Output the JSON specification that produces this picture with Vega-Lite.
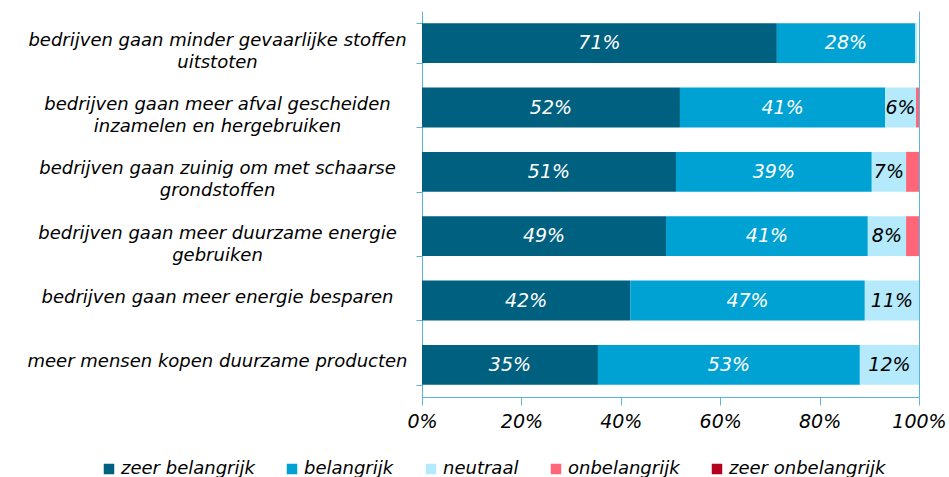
{
  "$schema": "https://vega.github.io/schema/vega-lite/v6.json",
  "width": 497,
  "height": 386,
  "autosize": {"type": "none"},
  "padding": {"left": 422, "top": 11, "right": 30, "bottom": 80},
  "background": "white",
  "config": {"font": "DejaVu Sans", "view": {"stroke": null}},
  "data": {
    "values": [
      {"item": "bedrijven gaan minder gevaarlijke stoffen|uitstoten", "cat": "zeer belangrijk", "ord": 1, "value": 71.4},
      {"item": "bedrijven gaan minder gevaarlijke stoffen|uitstoten", "cat": "belangrijk", "ord": 2, "value": 27.8},
      {"item": "bedrijven gaan minder gevaarlijke stoffen|uitstoten", "cat": "neutraal", "ord": 3, "value": 0.4},
      {"item": "bedrijven gaan minder gevaarlijke stoffen|uitstoten", "cat": "onbelangrijk", "ord": 4, "value": 0},
      {"item": "bedrijven gaan minder gevaarlijke stoffen|uitstoten", "cat": "zeer onbelangrijk", "ord": 5, "value": 0},
      {"item": "bedrijven gaan meer afval gescheiden|inzamelen en hergebruiken", "cat": "zeer belangrijk", "ord": 1, "value": 51.9},
      {"item": "bedrijven gaan meer afval gescheiden|inzamelen en hergebruiken", "cat": "belangrijk", "ord": 2, "value": 41.3},
      {"item": "bedrijven gaan meer afval gescheiden|inzamelen en hergebruiken", "cat": "neutraal", "ord": 3, "value": 6.2},
      {"item": "bedrijven gaan meer afval gescheiden|inzamelen en hergebruiken", "cat": "onbelangrijk", "ord": 4, "value": 0.6},
      {"item": "bedrijven gaan meer afval gescheiden|inzamelen en hergebruiken", "cat": "zeer onbelangrijk", "ord": 5, "value": 0},
      {"item": "bedrijven gaan zuinig om met schaarse|grondstoffen", "cat": "zeer belangrijk", "ord": 1, "value": 51.1},
      {"item": "bedrijven gaan zuinig om met schaarse|grondstoffen", "cat": "belangrijk", "ord": 2, "value": 39.4},
      {"item": "bedrijven gaan zuinig om met schaarse|grondstoffen", "cat": "neutraal", "ord": 3, "value": 6.9},
      {"item": "bedrijven gaan zuinig om met schaarse|grondstoffen", "cat": "onbelangrijk", "ord": 4, "value": 2.6},
      {"item": "bedrijven gaan zuinig om met schaarse|grondstoffen", "cat": "zeer onbelangrijk", "ord": 5, "value": 0},
      {"item": "bedrijven gaan meer duurzame energie|gebruiken", "cat": "zeer belangrijk", "ord": 1, "value": 49.1},
      {"item": "bedrijven gaan meer duurzame energie|gebruiken", "cat": "belangrijk", "ord": 2, "value": 40.6},
      {"item": "bedrijven gaan meer duurzame energie|gebruiken", "cat": "neutraal", "ord": 3, "value": 7.7},
      {"item": "bedrijven gaan meer duurzame energie|gebruiken", "cat": "onbelangrijk", "ord": 4, "value": 2.6},
      {"item": "bedrijven gaan meer duurzame energie|gebruiken", "cat": "zeer onbelangrijk", "ord": 5, "value": 0},
      {"item": "bedrijven gaan meer energie besparen", "cat": "zeer belangrijk", "ord": 1, "value": 41.9},
      {"item": "bedrijven gaan meer energie besparen", "cat": "belangrijk", "ord": 2, "value": 47.2},
      {"item": "bedrijven gaan meer energie besparen", "cat": "neutraal", "ord": 3, "value": 10.9},
      {"item": "bedrijven gaan meer energie besparen", "cat": "onbelangrijk", "ord": 4, "value": 0},
      {"item": "bedrijven gaan meer energie besparen", "cat": "zeer onbelangrijk", "ord": 5, "value": 0},
      {"item": "meer mensen kopen duurzame producten", "cat": "zeer belangrijk", "ord": 1, "value": 35.4},
      {"item": "meer mensen kopen duurzame producten", "cat": "belangrijk", "ord": 2, "value": 52.7},
      {"item": "meer mensen kopen duurzame producten", "cat": "neutraal", "ord": 3, "value": 11.9},
      {"item": "meer mensen kopen duurzame producten", "cat": "onbelangrijk", "ord": 4, "value": 0},
      {"item": "meer mensen kopen duurzame producten", "cat": "zeer onbelangrijk", "ord": 5, "value": 0}
    ]
  },
  "encoding": {
    "y": {
      "field": "item",
      "type": "nominal",
      "sort": [
        "bedrijven gaan minder gevaarlijke stoffen|uitstoten",
        "bedrijven gaan meer afval gescheiden|inzamelen en hergebruiken",
        "bedrijven gaan zuinig om met schaarse|grondstoffen",
        "bedrijven gaan meer duurzame energie|gebruiken",
        "bedrijven gaan meer energie besparen",
        "meer mensen kopen duurzame producten"
      ],
      "scale": {"paddingInner": 0.38, "paddingOuter": 0.19},
      "axis": {
        "title": null,
        "labelExpr": "split(datum.label, '|')",
        "domainColor": "#5ab4dc",
        "tickColor": "#5ab4dc",
        "tickBand": "extent",
        "tickSize": 6,
        "labelAlign": "center",
        "labelPadding": 199,
        "labelFontStyle": "italic",
        "labelFontSize": 18,
        "labelColor": "#000000",
        "labelLineHeight": 22,
        "labelOffset": -3,
        "labelLimit": 0
      }
    }
  },
  "layer": [
    {
      "mark": {"type": "bar"},
      "encoding": {
        "x": {
          "field": "value",
          "type": "quantitative",
          "stack": "zero",
          "scale": {"domain": [0, 100], "nice": false},
          "axis": {
            "title": null,
            "values": [0, 20, 40, 60, 80, 100],
            "labelExpr": "datum.value + '%'",
            "labelFlush": false,
            "domainColor": "#5ab4dc",
            "tickColor": "#5ab4dc",
            "tickSize": 8,
            "labelPadding": 7,
            "labelFontStyle": "italic",
            "labelFontSize": 19,
            "labelColor": "#000000",
            "grid": true,
            "gridColor": "#5ab4dc",
            "gridOpacity": {"condition": {"test": "datum.value === 100", "value": 1}, "value": 0}
          }
        },
        "color": {
          "field": "cat",
          "type": "nominal",
          "sort": ["zeer belangrijk", "belangrijk", "neutraal", "onbelangrijk", "zeer onbelangrijk"],
          "scale": {
            "domain": ["zeer belangrijk", "belangrijk", "neutraal", "onbelangrijk", "zeer onbelangrijk"],
            "range": ["#00607f", "#00a2d3", "#b4eafc", "#ff6677", "#b2001e"]
          },
          "legend": {
            "title": null,
            "orient": "none",
            "direction": "horizontal",
            "legendX": -322,
            "legendY": 449,
            "symbolType": "square",
            "symbolSize": 110,
            "symbolStrokeWidth": 0,
            "labelFontSize": 18,
            "labelFontStyle": "italic",
            "labelColor": "#000000",
            "columnPadding": 28,
            "labelOffset": 3
          }
        },
        "order": {"field": "ord"}
      }
    },
    {
      "transform": [
        {"stack": "value", "groupby": ["item"], "sort": [{"field": "ord"}], "as": ["v0", "v1"]},
        {"filter": "datum.value >= 5"},
        {"calculate": "(datum.v0 + datum.v1) / 2", "as": "mid"},
        {"calculate": "format(datum.value, '.0f') + '%'", "as": "lab"}
      ],
      "mark": {"type": "text", "fontStyle": "italic", "fontSize": 19},
      "encoding": {
        "x": {"field": "mid", "type": "quantitative"},
        "text": {"field": "lab"},
        "color": {"condition": {"test": "datum.cat === 'neutraal'", "value": "#000000"}, "value": "#ffffff"}
      }
    }
  ]
}
